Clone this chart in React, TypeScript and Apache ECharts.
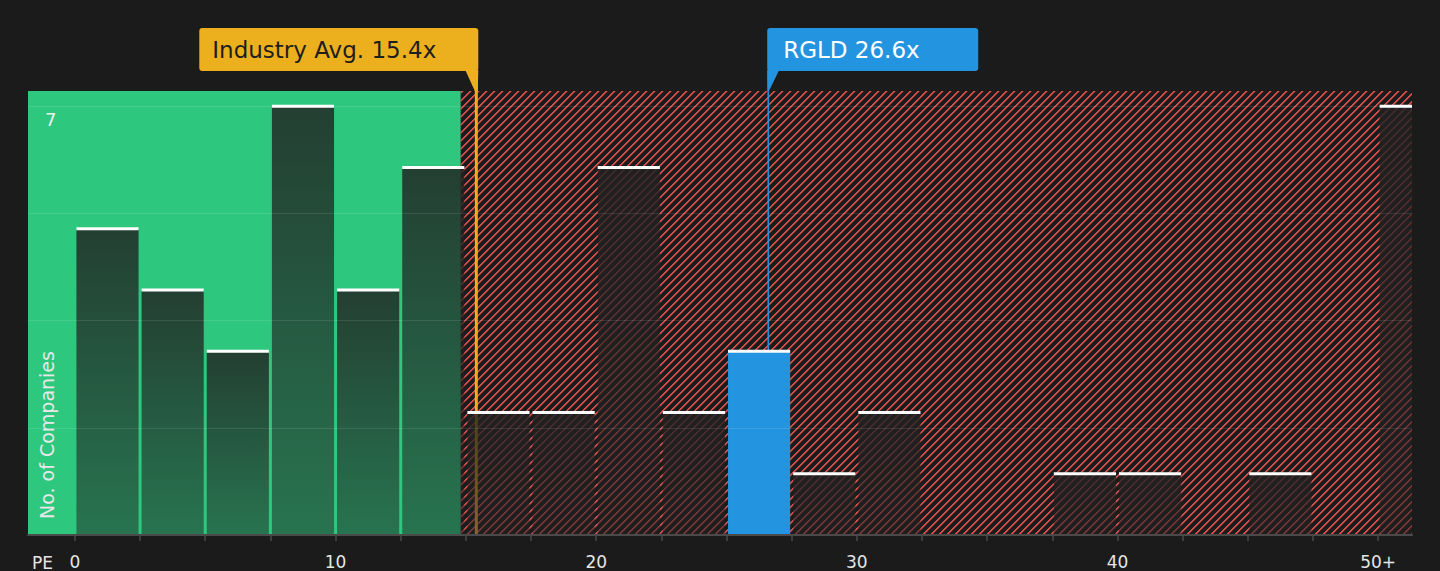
import React, { useEffect, useRef } from "react";
import * as echarts from "echarts";

// ---- data ----
const binStarts = [0, 2.5, 5, 7.5, 10, 12.5, 15, 17.5, 20, 22.5, 25, 27.5, 30, 32.5, 35, 37.5, 40, 42.5, 45, 47.5, 50];
const binWidth = 2.5;
const companyCounts = [5, 4, 3, 7, 4, 6, 2, 2, 6, 2, 3, 1, 2, 0, 0, 1, 1, 0, 1, 0, 7];
const xLabelValues = [0, 10, 20, 30, 40, 50];
const xLabelTexts = ["0", "10", "20", "30", "40", "50+"];
const yLabelValues = [7];
const industryLabel = "Industry Avg.";
const industryAvgPE = 15.4;
const companyTicker = "RGLD";
const companyPE = 26.6;
const goodValueLimit = 14.8;
const xMin = -1.8;
const xMax = 51.3;
const yMax = 7.25;
const yStep = 1.75;
const xAxisName = "PE";
const yAxisName = "No. of Companies";

// ---- styles ----
const BG = "#1b1b1b";
const GREEN = "#2ec77e";
const GOLD = "#ecb01f";
const BLUE = "#2394e0";
const FONT = "'DejaVu Sans', sans-serif";

function makeHatch() {
  const s = 8;
  const c = document.createElement("canvas");
  c.width = s;
  c.height = s;
  const ctx = c.getContext("2d")!;
  for (let y = 0; y < s; y++) {
    for (let x = 0; x < s; x++) {
      const k = (x + y) % s;
      if (k < 2) {
        ctx.fillStyle = "rgba(212,78,78,1)";
        ctx.fillRect(x, y, 1, 1);
      } else if (k === 2) {
        ctx.fillStyle = "rgba(212,78,78,0.35)";
        ctx.fillRect(x, y, 1, 1);
      }
    }
  }
  return { image: c, repeat: "repeat", imageWidth: s, imageHeight: s };
}

export default function App() {
  const ref = useRef<HTMLDivElement>(null);
  useEffect(() => {
    const chart = echarts.init(ref.current!, null, { renderer: "svg" });
    const hatch = makeHatch();
    const barData = binStarts.map((s, i) => [s, s + binWidth, companyCounts[i]]);

    chart.setOption({
      animation: false,
      backgroundColor: BG,
      grid: { left: 28, right: 28, top: 91, bottom: 36, containLabel: false, outerBoundsMode: "none" },
      xAxis: {
        type: "value",
        min: xMin,
        max: xMax,
        z: 6,
        name: xAxisName,
        nameLocation: "start",
        nameGap: -25,
        nameTextStyle: { color: "#e6e6e6", fontSize: 17, fontFamily: FONT, verticalAlign: "top", padding: [19, 0, 0, 0] },
        axisLine: { show: true, lineStyle: { color: "#4a4a4a", width: 2 } },
        axisTick: { show: true, length: 6, customValues: binStarts, lineStyle: { color: "#4a4a4a", width: 1.5 } },
        axisLabel: {
          show: true,
          customValues: xLabelValues,
          color: "#e6e6e6",
          fontSize: 17,
          fontFamily: FONT,
          margin: 18,
          formatter: (v: number) => {
            const i = xLabelValues.findIndex((x) => Math.abs(x - v) < 1e-6);
            return i >= 0 ? xLabelTexts[i] : "";
          },
        },
        splitLine: { show: false },
      },
      yAxis: {
        type: "value",
        min: 0,
        max: yMax,
        interval: yStep,
        z: 6,
        axisLine: { show: false },
        axisTick: { show: false },
        axisLabel: {
          inside: true,
          margin: 17,
          color: "#f0f0f0",
          fontSize: 18,
          fontFamily: FONT,
          verticalAlign: "top",
          padding: [4, 0, 0, 0],
          formatter: (v: number) => (yLabelValues.some((y) => Math.abs(y - v) < 1e-6) ? String(Math.round(v)) : ""),
        },
        splitLine: { show: true, showMinLine: false, showMaxLine: false, lineStyle: { color: "rgba(255,255,255,0.1)", width: 1 } },
      },
      series: [
        {
          type: "line",
          data: [],
          z: 1,
          silent: true,
          markArea: {
            silent: true,
            z: 1,
            label: { show: false },
            data: [
              [{ xAxis: xMin, itemStyle: { color: GREEN } }, { xAxis: goodValueLimit }],
              [{ xAxis: goodValueLimit, itemStyle: { color: hatch } }, { xAxis: xMax }],
            ],
          },
        },
        {
          type: "custom",
          z: 4,
          clip: true,
          silent: true,
          encode: { x: [0, 1], y: 2 },
          data: barData,
          renderItem: (params: any, api: any) => {
            const x0 = api.value(0);
            const x1 = api.value(1);
            const v = api.value(2);
            if (!v) return { type: "group", children: [] };
            const tl = api.coord([x0, v]);
            const br = api.coord([x1, 0]);
            const gap = 1.5;
            const x = tl[0] + gap;
            const w = br[0] - tl[0] - gap * 2;
            const y = tl[1];
            const h = br[1] - tl[1];
            const isCompany = companyPE >= x0 && companyPE < x1;
            const fill = isCompany
              ? BLUE
              : new echarts.graphic.LinearGradient(0, 0, 0, 1, [
                  { offset: 0, color: "rgba(33,33,33,0.82)" },
                  { offset: 1, color: "rgba(33,33,33,0.5)" },
                ]);
            return {
              type: "group",
              children: [
                { type: "rect", shape: { x, y, width: w, height: h }, style: { fill } },
                { type: "rect", shape: { x, y: y - 1.5, width: w, height: 3 }, style: { fill: "#ffffff" } },
              ],
            };
          },
        },
      ],
    });

    const ip = chart.convertToPixel({ gridIndex: 0 }, [industryAvgPE, 0]) as number[];
    const cp = chart.convertToPixel({ gridIndex: 0 }, [companyPE, 0]) as number[];
    const topY = (chart.convertToPixel({ gridIndex: 0 }, [0, yMax]) as number[])[1];
    const ix = ip[0];
    const cx = cp[0];
    const baseY = ip[1];
    const boxTop = 28;
    const boxBottom = 71;

    chart.setOption({
      graphic: [
        {
          type: "line",
          z: 3,
          silent: true,
          shape: { x1: ix, y1: boxBottom, x2: ix, y2: baseY },
          style: { stroke: GOLD, lineWidth: 3 },
        },
        {
          type: "line",
          z: 3,
          silent: true,
          shape: { x1: cx, y1: boxBottom, x2: cx, y2: baseY },
          style: { stroke: BLUE, lineWidth: 1.5 },
        },
        {
          type: "rect",
          z: 10,
          silent: true,
          shape: { x: ix - 277, y: boxTop, width: 279, height: boxBottom - boxTop, r: 3 },
          style: { fill: GOLD },
        },
        {
          type: "polygon",
          z: 10,
          silent: true,
          shape: { points: [[ix - 11, boxBottom - 1], [ix + 2, boxBottom - 1], [ix + 1.5, topY], [ix - 1.5, topY]] },
          style: { fill: GOLD },
        },
        {
          type: "text",
          z: 11,
          silent: true,
          x: ix - 264,
          y: (boxTop + boxBottom) / 2,
          style: {
            text: `${industryLabel} ${industryAvgPE}x`,
            fill: "#1e1e1e",
            font: `23px ${FONT}`,
            textAlign: "left",
            textVerticalAlign: "middle",
          },
        },
        {
          type: "rect",
          z: 10,
          silent: true,
          shape: { x: cx - 1, y: boxTop, width: 211, height: boxBottom - boxTop, r: 3 },
          style: { fill: BLUE },
        },
        {
          type: "polygon",
          z: 10,
          silent: true,
          shape: { points: [[cx - 1, boxBottom - 1], [cx + 11, boxBottom - 1], [cx + 0.75, topY], [cx - 0.75, topY]] },
          style: { fill: BLUE },
        },
        {
          type: "text",
          z: 11,
          silent: true,
          x: cx + 15,
          y: (boxTop + boxBottom) / 2,
          style: {
            text: `${companyTicker} ${companyPE}x`,
            fill: "#ffffff",
            font: `23px ${FONT}`,
            textAlign: "left",
            textVerticalAlign: "middle",
          },
        },
        {
          type: "text",
          z: 11,
          silent: true,
          x: 47,
          y: 519,
          rotation: Math.PI / 2,
          style: {
            text: yAxisName,
            fill: "#e8e8e8",
            font: `19px ${FONT}`,
            textAlign: "left",
            textVerticalAlign: "middle",
          },
        },
      ],
    });

    return () => chart.dispose();
  }, []);

  return (
    <div
      ref={ref}
      style={{ position: "fixed", left: 0, top: 0, width: 1440, height: 571, background: BG }}
    />
  );
}
